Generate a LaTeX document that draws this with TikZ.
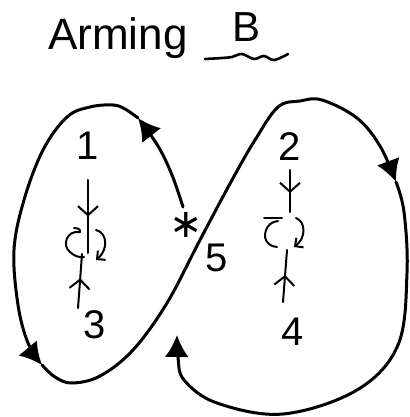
\documentclass[tikz,border=0pt]{standalone}
\usepackage{fontspec}
\setmainfont{Liberation Sans}
\newfontfamily\symfont{DejaVu Sans}
\usetikzlibrary{arrows.meta,decorations.markings}
\begin{document}
\begin{tikzpicture}[x=1pt,y=-1pt,
  loopline/.style={line width=3pt, line cap=round, line join=round},
  bigtip/.style={-{Latex[length=22pt,width=24pt]}},
  smallline/.style={line width=2pt, line cap=round, line join=round},
  lbl/.style={font=\fontsize{40}{40}\selectfont, inner sep=0pt},
  midbarb/.style={postaction={decorate}, decoration={markings,
    mark=at position #1 with {\arrow{Straight Barb[length=9pt,width=20pt,line width=2pt]}}}},
  curltip/.style={-{Straight Barb[length=6pt,width=12pt,line width=2pt]}},
]
\useasboundingbox (0,0) rectangle (409,417);

% title
\node[font=\fontsize{44}{44}\selectfont, inner sep=0pt, anchor=base west] (title) at (48,50) {Arming};
\node[font=\fontsize{42}{42}\selectfont, inner sep=0pt, anchor=base west] (bee) at (232,42) {B};
\draw[line width=2.6pt, line cap=round] plot[smooth, tension=0.6] coordinates
  {(205,59) (222,58) (232,57) (242,54) (254,59) (264,56) (274,60) (288,54)};

% figure-eight path
\coordinate (s1) at (183,207);
\coordinate (a1) at (138,118);
\coordinate (a2) at (42,365);
\coordinate (a3) at (396,182);
\coordinate (a4) at (177,335);
\draw[loopline, bigtip] plot[smooth, tension=0.6] coordinates
  {(s1) (172,175) (158,146) (a1)};
\draw[loopline, bigtip] plot[smooth, tension=0.6] coordinates
  {(a1) (125,109) (113,105) (90,107) (67,117) (43,150) (24,200) (14,250) (18,305) (28,343) (a2)};
\draw[loopline, bigtip] plot[smooth, tension=0.6] coordinates
  {(a2) (55,377) (72,383) (100,376) (133,350) (167,303) (200,240) (232,180) (255,140) (278,107) (300,101) (322,100) (357,118) (380,146) (a3)};
\draw[loopline, bigtip] plot[smooth, tension=0.6] coordinates
  {(a3) (404,212) (407,273) (398,345) (357,390) (283,414) (217,403) (184,380) (178,357) (a4)};

% labels
\node[lbl] (n1) at (88,146) {1};
\node[lbl] (n2) at (290,147) {2};
\node[lbl] (n3) at (95,325) {3};
\node[lbl] (n4) at (293,332) {4};
\node[lbl] (n5) at (217,258) {5};
\node[inner sep=0pt, font=\symfont\fontsize{40}{40}\selectfont] (star) at (186,225) {∗};

% left small arrows and curl
\coordinate (la) at (88,180);
\coordinate (lb) at (88,253);
\coordinate (lc) at (82,254);
\coordinate (ld) at (78,308);
\draw[smallline, midbarb=0.5] (la) -- (lb);
\draw[smallline, midbarb=0.55] (ld) -- (lc);
\draw[smallline] (74,228) .. controls (80,228) and (81,231) .. (80,232)
  .. controls (66,230) and (62,246) .. (70,252) .. controls (74,256) and (80,258) .. (84,257);
\draw[smallline, curltip] (96,230) .. controls (108,233) and (108,250) .. (96,260);

% right small arrows and curl
\coordinate (ra) at (290,170);
\coordinate (rb) at (290,212);
\coordinate (rc) at (287,250);
\coordinate (rd) at (283,302);
\draw[smallline, midbarb=0.55] (ra) -- (rb);
\draw[smallline, midbarb=0.52] (rd) -- (rc);
\draw[smallline] (264,218) -- (282,218);
\draw[smallline] (278,221) .. controls (265,222) and (262,238) .. (268,243) .. controls (271,246) and (274,247) .. (277,247);
\draw[smallline, curltip] (296,218) .. controls (306,222) and (306,238) .. (294,247);
\end{tikzpicture}
\end{document}
